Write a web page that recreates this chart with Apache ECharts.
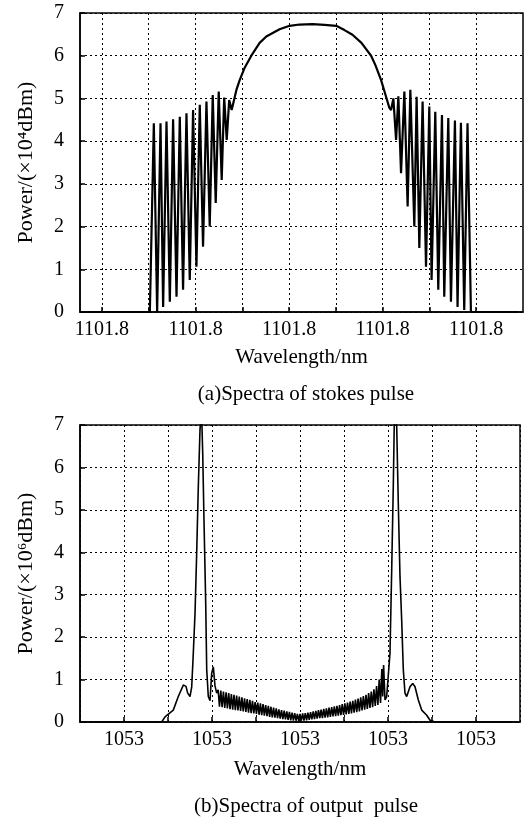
<!DOCTYPE html>
<html>
<head>
<meta charset="utf-8">
<script src="https://cdn.jsdelivr.net/npm/echarts@6/dist/echarts.min.js"></script>
<style>
html,body{margin:0;padding:0;background:#fff;}
#chart{width:528px;height:819px;}
</style>
</head>
<body>
<div id="chart"></div>
<script>
// ---- Data (x in grid-tick units, y in displayed power units) ----
const topWavelength = [0.6, 2.024, 2.109, 2.180, 2.252, 2.308, 2.380, 2.451, 2.521, 2.594, 2.664, 2.734, 2.807, 2.877, 2.948, 3.020, 3.091, 3.161, 3.234, 3.304, 3.368, 3.432, 3.496, 3.560, 3.613, 3.667, 3.720, 3.773, 3.874, 3.944, 4.051, 4.193, 4.371, 4.513, 4.797, 5.011, 5.224, 5.501, 5.757, 6.007, 6.184, 6.355, 6.547, 6.753, 6.845, 6.967, 7.073, 7.144, 7.180, 7.229, 7.287, 7.336, 7.393, 7.464, 7.534, 7.592, 7.677, 7.726, 7.784, 7.854, 7.927, 7.997, 8.046, 8.125, 8.189, 8.268, 8.317, 8.403, 8.460, 8.545, 8.601, 8.673, 8.744, 8.814, 8.887, 9.9];
const topPower = [0, 0, 4.42, 0.0, 4.42, 0.12, 4.46, 0.24, 4.51, 0.36, 4.57, 0.52, 4.65, 0.75, 4.73, 1.06, 4.85, 1.53, 4.93, 2.0, 5.08, 2.55, 5.16, 3.09, 5.02, 4.03, 4.96, 4.73, 5.2, 5.43, 5.72, 6.0, 6.3, 6.45, 6.62, 6.70, 6.73, 6.74, 6.72, 6.70, 6.6, 6.49, 6.3, 6.0, 5.78, 5.43, 5.04, 4.78, 4.73, 5.0, 4.03, 5.05, 3.25, 5.16, 2.47, 5.2, 2.0, 5.04, 1.5, 4.93, 1.06, 4.81, 0.75, 4.69, 0.52, 4.61, 0.36, 4.54, 0.24, 4.48, 0.12, 4.43, 0.05, 4.42, 0, 0];

// left side lobe + left peak
const bottomLeftWavelength = [0.2, 1.857, 1.932, 2.120, 2.234, 2.348, 2.409, 2.448, 2.500, 2.539, 2.575, 2.614, 2.652, 2.689, 2.727, 2.761, 2.789, 2.818, 2.857, 2.880, 2.916, 2.955, 2.993, 3.030, 3.068, 3.107];
const bottomLeftPower = [0, 0, 0.12, 0.28, 0.6, 0.87, 0.84, 0.68, 0.6, 0.83, 1.62, 2.56, 3.98, 5.55, 6.88, 7.4, 6.33, 4.76, 2.8, 1.23, 0.6, 0.5, 1.15, 1.3, 0.85, 0.68];
// dense ripple between the two peaks
const bottomMidWavelength = [3.14, 3.17, 3.20, 3.23, 3.26, 3.29, 3.32, 3.35, 3.38, 3.41, 3.44, 3.47, 3.50, 3.53, 3.56, 3.59, 3.62, 3.65, 3.68, 3.71, 3.74, 3.77, 3.80, 3.83, 3.86, 3.89, 3.92, 3.95, 3.98, 4.01, 4.04, 4.07, 4.10, 4.13, 4.16, 4.19, 4.22, 4.25, 4.28, 4.31, 4.34, 4.37, 4.40, 4.43, 4.46, 4.49, 4.52, 4.55, 4.58, 4.61, 4.64, 4.67, 4.70, 4.73, 4.76, 4.79, 4.82, 4.85, 4.88, 4.91, 4.94, 4.97, 5.00, 5.03, 5.06, 5.09, 5.12, 5.15, 5.18, 5.21, 5.24, 5.27, 5.30, 5.33, 5.36, 5.39, 5.42, 5.45, 5.48, 5.51, 5.54, 5.57, 5.60, 5.63, 5.66, 5.69, 5.72, 5.75, 5.78, 5.81, 5.84, 5.87, 5.90, 5.93, 5.96, 5.99, 6.02, 6.05, 6.08, 6.11, 6.14, 6.17, 6.20, 6.23, 6.26, 6.29, 6.32, 6.35, 6.38, 6.41, 6.44, 6.47, 6.50, 6.53, 6.56, 6.59, 6.62, 6.65, 6.68, 6.71, 6.74, 6.77, 6.80, 6.83, 6.86, 6.88];
const bottomMidPower = [0.76, 0.36, 0.74, 0.35, 0.72, 0.33, 0.70, 0.32, 0.68, 0.30, 0.66, 0.29, 0.64, 0.28, 0.62, 0.27, 0.60, 0.26, 0.58, 0.25, 0.56, 0.24, 0.54, 0.22, 0.52, 0.21, 0.50, 0.20, 0.47, 0.19, 0.46, 0.17, 0.44, 0.16, 0.42, 0.15, 0.40, 0.14, 0.38, 0.12, 0.36, 0.11, 0.34, 0.10, 0.32, 0.09, 0.30, 0.08, 0.28, 0.07, 0.27, 0.06, 0.25, 0.05, 0.24, 0.04, 0.22, 0.03, 0.21, 0.03, 0.19, 0.02, 0.19, 0.03, 0.20, 0.03, 0.21, 0.04, 0.22, 0.05, 0.23, 0.06, 0.25, 0.07, 0.26, 0.08, 0.28, 0.09, 0.29, 0.09, 0.31, 0.10, 0.32, 0.11, 0.34, 0.12, 0.35, 0.13, 0.37, 0.14, 0.38, 0.15, 0.40, 0.16, 0.42, 0.17, 0.44, 0.18, 0.46, 0.19, 0.48, 0.20, 0.50, 0.22, 0.53, 0.23, 0.55, 0.25, 0.58, 0.27, 0.61, 0.29, 0.64, 0.31, 0.68, 0.33, 0.72, 0.35, 0.77, 0.38, 0.85, 0.40, 1.0, 0.45, 1.25, 0.6];
// right peak + right side lobe
const bottomRightWavelength = [6.90, 6.932, 6.970, 7.007, 7.045, 7.084, 7.120, 7.148, 7.198, 7.234, 7.273, 7.311, 7.348, 7.386, 7.425, 7.500, 7.561, 7.614, 7.689, 7.766, 7.880, 7.955, 8.068, 9.8];
const bottomRightPower = [1.34, 0.52, 0.6, 0.6, 1.62, 3.58, 5.55, 7.4, 6.96, 5.15, 3.42, 2.4, 1.23, 0.68, 0.6, 0.83, 0.91, 0.83, 0.52, 0.28, 0.16, 0.04, 0, 0];

const topGridValues = [1, 2, 3, 4, 5, 6, 7, 8, 9];
const topTickValues = [1, 3, 5, 7, 9];
const topTickLabels = ['1101.8', '1101.8', '1101.8', '1101.8', '1101.8'];
const bottomTickValues = [1, 3, 5, 7, 9];
const bottomTickLabels = ['1053', '1053', '1053', '1053', '1053'];

const FONT = '"Liberation Serif", "Times New Roman", serif';
const FS = 20;
const FS_NAME = 21;

const gridLine = { show: true, lineStyle: { color: '#000', type: [2, 3], width: 1 } };

function zip(xs, ys) { return xs.map((x, i) => [x, ys[i]]); }
function labelFor(values, labels) {
  return function (v) {
    for (let i = 0; i < values.length; i++) if (Math.abs(values[i] - v) < 1e-6) return labels[i];
    return '';
  };
}

const bottomData = zip(bottomLeftWavelength, bottomLeftPower)
  .concat(zip(bottomMidWavelength, bottomMidPower))
  .concat(zip(bottomRightWavelength, bottomRightPower));

const chart = echarts.init(document.getElementById('chart'), null, { renderer: 'canvas' });

const axisLineStyle = { show: true, lineStyle: { color: '#000', width: 1.5 } };
const tickStyle = { show: true, inside: true, length: 5, lineStyle: { color: '#000', width: 1.5 } };

const option = {
  animation: false,
  backgroundColor: '#fff',
  textStyle: { fontFamily: FONT },
  title: [
    { text: '(a)Spectra of stokes pulse', left: 301, top: 379, textAlign: 'center',
      textStyle: { fontFamily: FONT, fontSize: FS_NAME, fontWeight: 'normal', color: '#000' } },
    { text: '(b)Spectra of output  pulse', left: 301, top: 791, textAlign: 'center',
      textStyle: { fontFamily: FONT, fontSize: FS_NAME, fontWeight: 'normal', color: '#000' } }
  ],
  grid: [
    { left: 80, top: 13, width: 443, height: 299, show: true, borderColor: '#000', borderWidth: 1.5, backgroundColor: 'transparent' },
    { left: 80, top: 425, width: 440, height: 297, show: true, borderColor: '#000', borderWidth: 1.5, backgroundColor: 'transparent' }
  ],
  xAxis: [
    { type: 'value', gridIndex: 0, min: 0.531, max: 10,
      name: 'Wavelength/nm', nameLocation: 'middle', nameGap: 35,
      nameTextStyle: { fontFamily: FONT, fontSize: FS_NAME, color: '#000' },
      axisLine: axisLineStyle,
      axisTick: Object.assign({ customValues: topGridValues }, tickStyle),
      axisLabel: { show: true, customValues: topTickValues, formatter: labelFor(topTickValues, topTickLabels),
        fontFamily: FONT, fontSize: FS, color: '#000', margin: 8 },
      splitLine: gridLine },
    { type: 'value', gridIndex: 1, min: 0, max: 10, interval: 1,
      name: 'Wavelength/nm', nameLocation: 'middle', nameGap: 37,
      nameTextStyle: { fontFamily: FONT, fontSize: FS_NAME, color: '#000' },
      axisLine: axisLineStyle,
      axisTick: tickStyle,
      axisLabel: { show: true, formatter: labelFor(bottomTickValues, bottomTickLabels), showMinLabel: false, showMaxLabel: false,
        fontFamily: FONT, fontSize: FS, color: '#000', margin: 8 },
      splitLine: gridLine }
  ],
  yAxis: [
    { type: 'value', gridIndex: 0, min: 0, max: 7, interval: 1,
      name: 'Power/(×10⁴dBm)', nameLocation: 'middle', nameGap: 43,
      nameTextStyle: { fontFamily: FONT, fontSize: FS_NAME + 1, color: '#000' },
      axisLine: axisLineStyle,
      axisTick: tickStyle,
      axisLabel: { fontFamily: FONT, fontSize: FS, color: '#000', margin: 16 },
      splitLine: gridLine },
    { type: 'value', gridIndex: 1, min: 0, max: 7, interval: 1,
      name: 'Power/(×10⁶dBm)', nameLocation: 'middle', nameGap: 43,
      nameTextStyle: { fontFamily: FONT, fontSize: FS_NAME + 1, color: '#000' },
      axisLine: axisLineStyle,
      axisTick: tickStyle,
      axisLabel: { fontFamily: FONT, fontSize: FS, color: '#000', margin: 16 },
      splitLine: gridLine }
  ],
  series: [
    { type: 'line', xAxisIndex: 0, yAxisIndex: 0, data: zip(topWavelength, topPower),
      showSymbol: false, lineStyle: { color: '#000', width: 2.2 }, clip: true },
    { type: 'line', xAxisIndex: 1, yAxisIndex: 1, data: bottomData,
      showSymbol: false, lineStyle: { color: '#000', width: 1.6 }, clip: true }
  ]
};
chart.setOption(option);
</script>
</body>
</html>
